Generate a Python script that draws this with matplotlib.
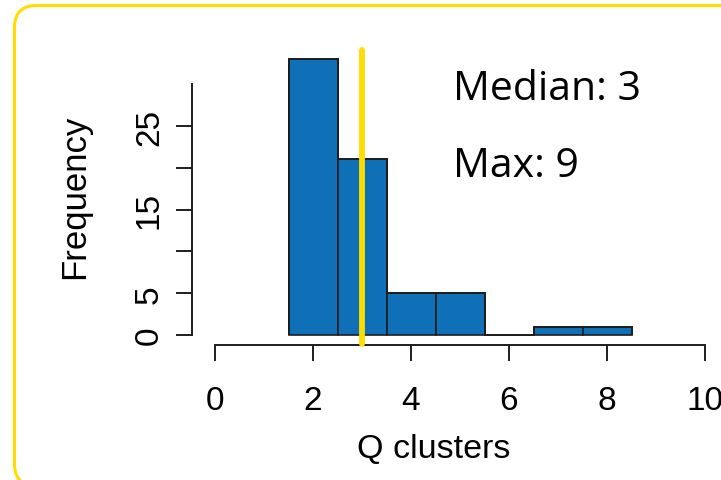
import numpy as np
import matplotlib
matplotlib.use("Agg")
import matplotlib.pyplot as plt
from matplotlib.patches import FancyBboxPatch
from matplotlib.transforms import IdentityTransform

# histogram of Q clusters
bin_edges = [1.5, 2.5, 3.5, 4.5, 5.5, 6.5, 7.5, 8.5]
counts = [33, 21, 5, 5, 0, 1, 1]
median_q = 3
max_q = 9

x_ticks = [0, 2, 4, 6, 8, 10]
y_ticks = [0, 5, 10, 15, 20, 25]
y_tick_labels = ["0", "5", "", "15", "", "25"]

BLUE = "#0f70b7"
YELLOW = "#ffdd00"
INK = "#1e1e1e"

plt.rcParams['font.family'] = ['Liberation Sans', 'DejaVu Sans']

W, H = 721, 481
fig = plt.figure(figsize=(W / 100, H / 100), dpi=100)

# rounded yellow frame (runs off the right and bottom edges)
frame = FancyBboxPatch((14.5, -6), 740, 480.5,
                       boxstyle="round,pad=0,rounding_size=22",
                       transform=IdentityTransform(), facecolor="none",
                       edgecolor=YELLOW, linewidth=2.2)
fig.patches.append(frame)

# axes placed in pixels: x 0->215px, 10->705px ; y 0->336px, 30->85px
left_px, right_px, bot_px, top_px = 192, 720, 346, 40
ax = fig.add_axes([left_px / W, 1 - bot_px / H,
                   (right_px - left_px) / W, (bot_px - top_px) / H])
ax.set_xlim((left_px - 215) / 49.0, (right_px - 215) / 49.0)
ax.set_ylim((336 - bot_px) / 8.36, (336 - top_px) / 8.36)
ax.patch.set_alpha(0)

ax.bar(bin_edges[:-1], counts, width=np.diff(bin_edges), align="edge",
       color=BLUE, edgecolor=INK, linewidth=1.2, zorder=2)
# outline so that empty bins still show their base line
ax.stairs(counts, bin_edges, baseline=0, color=INK, linewidth=1.4, zorder=2)

ax.axvline(median_q, ymin=0.004, ymax=0.963, color=YELLOW, linewidth=4.2,
           solid_capstyle="round", zorder=3, clip_on=False)

for s in ["top", "right"]:
    ax.spines[s].set_visible(False)
ax.spines["left"].set_bounds(0, 30)
ax.spines["bottom"].set_bounds(0, 10)
for s in ["left", "bottom"]:
    ax.spines[s].set_linewidth(1.4)
    ax.spines[s].set_color(INK)

ax.set_xticks(x_ticks)
ax.set_xticklabels([str(v) for v in x_ticks])
ax.set_yticks(y_ticks)
ax.set_yticklabels(y_tick_labels, rotation=90, va="center")
ax.tick_params(axis="both", direction="out", length=11.5, width=1.4,
               color=INK, labelsize=24, labelcolor="black")
ax.tick_params(axis="x", pad=17)
ax.tick_params(axis="y", pad=8)

fig.text(75 / W, 1 - 197 / H, "Frequency", rotation=90, ha="center",
         va="center", fontsize=25)
fig.text(434 / W, 1 - 458 / H, "Q clusters", ha="center", va="baseline",
         fontsize=24.5)

fig.text(453 / W, 1 - 100 / H, f"Median: {median_q}", ha="left",
         va="baseline", fontsize=29.5, family=["Open Sans", "DejaVu Sans"])
fig.text(453 / W, 1 - 177 / H, f"Max: {max_q}", ha="left",
         va="baseline", fontsize=29.5, family=["Open Sans", "DejaVu Sans"])

fig.savefig("out.png", dpi=100)
